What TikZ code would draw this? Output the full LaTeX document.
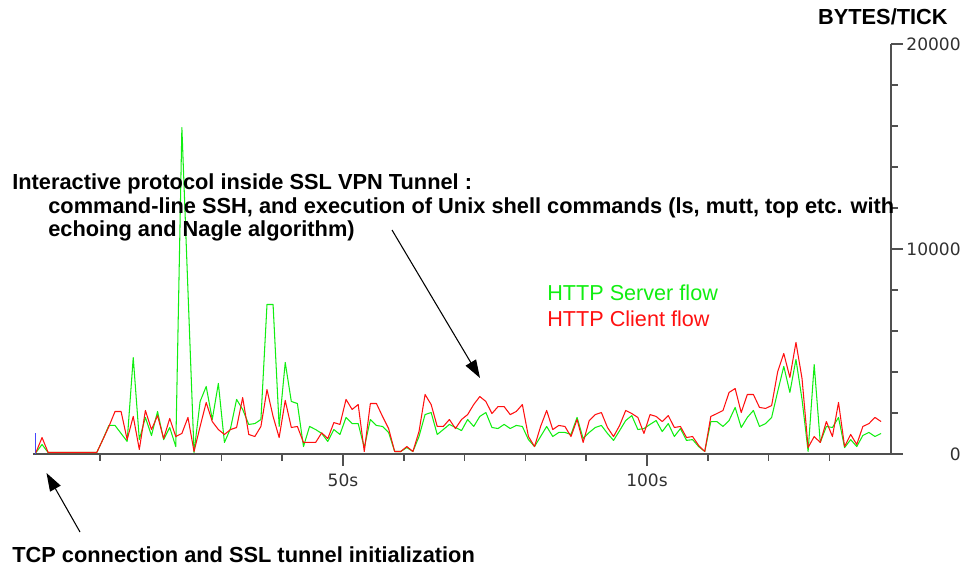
\documentclass[tikz,border=0pt]{standalone}
\usepackage{fontspec}
\setmainfont{Liberation Sans}
\newfontfamily\tickfont{DejaVu Sans}
\usetikzlibrary{arrows.meta,positioning,calc}
\definecolor{flowGreen}{HTML}{11EE11}
\definecolor{flowRed}{HTML}{FF1010}
\definecolor{axisGray}{HTML}{505050}
\definecolor{labelGray}{HTML}{303030}
\definecolor{initBlue}{HTML}{4646FF}
\tikzset{
  >=Stealth,
  note/.style    ={font=\bfseries\fontsize{12.4}{13.1}\selectfont,inner sep=0pt,align=left},
  legend/.style  ={font=\fontsize{12.3}{14}\selectfont,inner sep=0pt},
  ticklab/.style ={font=\tickfont\fontsize{9.7}{11}\selectfont,text=labelGray,inner sep=0pt},
  axisline/.style={axisGray,line width=1pt},
  srv/.style     ={flowGreen,line width=0.6pt,line join=round},
  cli/.style     ={flowRed,line width=0.6pt,line join=round},
  pointer/.style ={-{Triangle[length=0.36cm,width=0.24cm]},line width=0.6pt},
}

\begin{document}
\begin{tikzpicture}
  \useasboundingbox (-0.78,-2.4) rectangle (18.62,9.08);

  \draw[axisline] (-0.12,0) coordinate (xstart) -- (17.04,0) coordinate (corner) -- (17.04,8.2) coordinate (ytop);
  \foreach \t in {10,20,...,130} \draw[axisline] (\t*0.1216,0) -- ++(0,-0.14);
  \foreach \t in {50,100} \draw[axisline] (\t*0.1216,0) -- ++(0,-0.24);
  \foreach \k in {1,...,9} \draw[axisline] (corner) ++(0,\k*0.82) -- ++(0.14,0);
  \foreach \k in {0,5,10} \draw[axisline] (corner) ++(0,\k*0.82) -- ++(0.24,0);

  \node[ticklab] (t50) at (6.08,-0.52) {50s};
  \node[ticklab] (t100) at (12.16,-0.52) {100s};
  \node[ticklab,anchor=east] (y0) at (18.44,0) {0};
  \node[ticklab,anchor=east] (y10k) at (18.44,4.1) {10000};
  \node[ticklab,anchor=east] (y20k) at (18.44,8.2) {20000};
  \node[note,anchor=east] (unit) at (18.18,8.75) {BYTES/TICK};

  \draw[initBlue,line width=0.8pt] (-0.066,0) -- (-0.066,0.42);

  \begin{scope}[x=0.1216cm,y=0.41cm,yshift=0.03cm]
    \draw[srv] (-0.5,0) \foreach \v [count=\i] in {
      0.39,0,0,0,0,0,0,0,0,0,
      0.63,1.32,1.32,0.93,0.54,4.63,0.63,1.71,0.83,2.0,
      0.63,1.22,0.29,15.85,7.9,0,2.49,3.22,1.61,3.37,
      0.49,1.17,2.59,2.1,1.37,1.41,1.61,7.22,7.22,1.27,
      4.39,2.49,2.39,0.29,1.27,1.12,0.93,0.54,1.12,0.88,
      1.71,1.41,1.41,0.24,1.61,1.32,1.27,0.98,0.05,0.05,
      0.24,0.05,0.78,1.85,1.95,0.88,1.12,1.37,1.22,1.07,
      1.61,1.27,1.76,1.95,1.22,1.17,1.37,1.17,1.32,1.27,
      0.63,0.29,0.78,1.27,0.78,0.98,0.98,0.88,1.71,0.68,
      0.98,1.22,1.32,0.93,0.59,1.07,1.56,1.8,1.12,1.17,
      1.37,1.56,1.02,1.41,0.78,1.17,0.59,0.63,0.29,0.05,
      1.51,1.51,1.27,1.56,2.2,1.22,1.71,2.05,1.27,1.41,
      1.71,2.98,4.2,2.93,4.54,2.59,0.05,4.29,0.49,1.27,
      1.22,1.71,0.24,0.63,0.29,0.83,0.98,0.78,0.93} {-- (\i-0.5,\v)};
    \draw[cli] (-0.5,0) \foreach \v [count=\i] in {
      0.73,0,0,0,0,0,0,0,0,0,
      0.63,1.27,2.0,2.0,0.63,1.76,0.15,2.05,1.12,1.8,
      0.68,1.66,0.78,0.93,1.71,0.05,1.27,2.44,1.51,1.12,
      0.88,1.12,1.22,2.68,0.88,0.78,1.27,3.07,1.76,0.73,
      2.54,1.22,1.27,0.49,0.49,0.49,0.96,0.68,1.46,1.37,
      2.59,2.1,2.34,0.05,2.39,2.39,1.76,1.17,0.05,0.05,
      0.29,0.05,1.02,2.83,2.34,1.27,1.27,1.61,1.17,1.61,
      1.85,2.34,2.73,2.49,1.9,2.24,2.24,1.85,2.0,2.34,
      0.78,0.29,1.27,2.05,1.12,1.32,1.27,0.78,1.61,0.49,
      1.56,1.85,1.95,1.22,0.78,1.32,2.05,1.9,1.71,0.93,
      1.85,1.76,1.51,1.8,1.22,1.27,0.73,0.78,0.34,0.05,
      1.76,1.9,2.05,2.93,3.12,1.95,2.83,2.83,2.2,2.15,
      2.29,3.95,4.83,3.66,5.37,3.61,0.24,0.78,0.49,1.51,
      0.78,2.44,0.29,0.88,0.39,1.27,1.41,1.71,1.51} {-- (\i-0.5,\v)};
  \end{scope}

  \node[legend,text=flowGreen,anchor=west] (srvkey) at (10.16,3.22) {HTTP Server flow};
  \node[legend,text=flowRed,below=0.19cm of srvkey.south west,anchor=north west] (clikey) {HTTP Client flow};

  \node[note,anchor=west] (tunnel) at (-0.54,5.4) {Interactive protocol inside SSL VPN Tunnel :};
  \node[note,below right=0.06cm and 0.72cm of tunnel.south west,anchor=north west] (tunnelbody)
        {command-line SSH, and execution of Unix shell commands (ls, mutt, top etc. with\\echoing and Nagle algorithm)};
  \node[note,anchor=west] (init) at (-0.54,-2.02) {TCP connection and SSL tunnel initialization};

  \coordinate (shellfrom) at (7.06,4.48);
  \coordinate (shellto) at (8.82,1.52);
  \coordinate (initfrom) at (0.82,-1.56);
  \coordinate (initto) at (0.15,-0.38);
  \draw[pointer] (shellfrom) -- (shellto);
  \draw[pointer] (initfrom) -- (initto);
\end{tikzpicture}
\end{document}
